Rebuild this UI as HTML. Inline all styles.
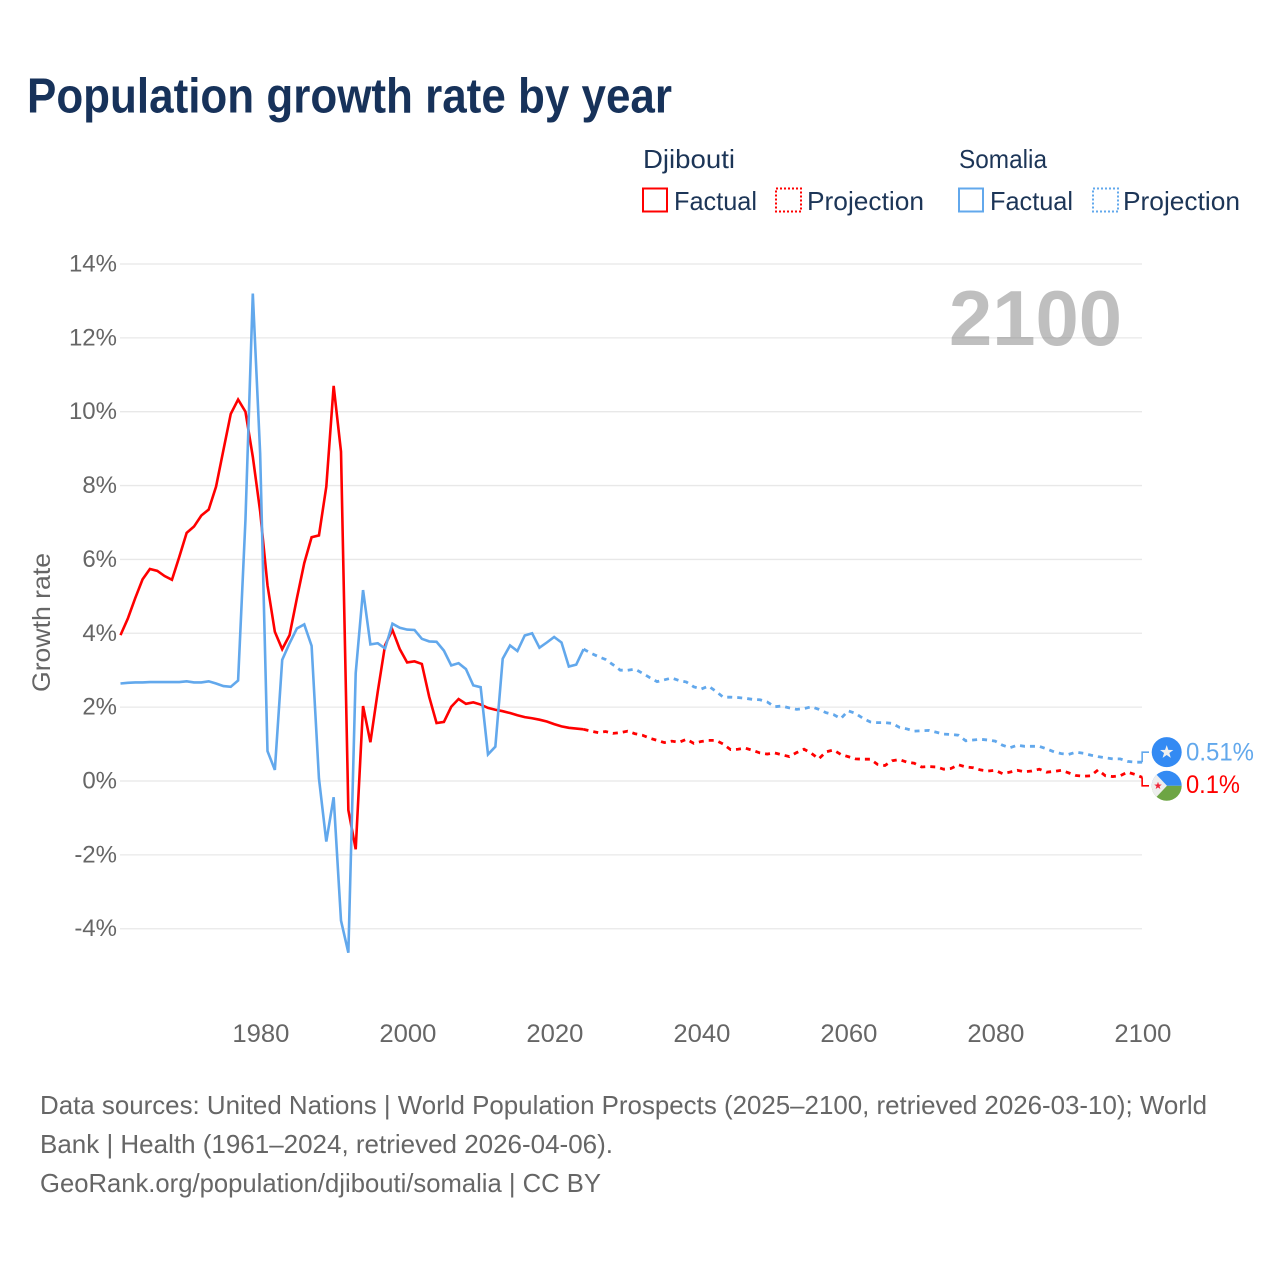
<!DOCTYPE html>
<html lang="en">
<head>
<meta charset="utf-8">
<title>Population growth rate by year</title>
<style>
  html, body { margin: 0; padding: 0; background: #fff; }
  svg { display: block; }
  text { font-family: "Liberation Sans", sans-serif; }
</style>
</head>
<body>
<svg id="chart" width="1280" height="1280" viewBox="0 0 1280 1280" xmlns="http://www.w3.org/2000/svg">
  <rect x="0" y="0" width="1280" height="1280" fill="#ffffff"/>
  <text x="27" y="112.5" font-size="49" font-weight="700" fill="#17325a" textLength="645" lengthAdjust="spacingAndGlyphs">Population growth rate by year</text>

  <g font-size="26" fill="#1c3557">
    <text x="643" y="168" textLength="92" lengthAdjust="spacingAndGlyphs">Djibouti</text>
    <text x="959" y="168" textLength="88" lengthAdjust="spacingAndGlyphs">Somalia</text>
    <rect x="643" y="188.5" width="24" height="23" fill="none" stroke="#ff0000" stroke-width="2"/>
    <text x="674" y="210" textLength="83" lengthAdjust="spacingAndGlyphs">Factual</text>
    <rect x="776" y="188.5" width="25" height="23" fill="none" stroke="#ff0000" stroke-width="2" stroke-dasharray="2 2"/>
    <text x="807" y="210" textLength="117" lengthAdjust="spacingAndGlyphs">Projection</text>
    <rect x="959" y="188.5" width="24" height="23" fill="none" stroke="#62a8ec" stroke-width="2"/>
    <text x="990" y="210" textLength="83" lengthAdjust="spacingAndGlyphs">Factual</text>
    <rect x="1093" y="188.5" width="25" height="23" fill="none" stroke="#62a8ec" stroke-width="2" stroke-dasharray="2 2"/>
    <text x="1123" y="210" textLength="117" lengthAdjust="spacingAndGlyphs">Projection</text>
  </g>

  <g id="grid"></g>
  <g id="yTicks"></g>
  <g id="xTicks"></g>

  <text transform="translate(50 622.5) rotate(-90)" text-anchor="middle" font-size="25" fill="#666666" textLength="139" lengthAdjust="spacingAndGlyphs">Growth rate</text>

  <text x="949" y="345" font-size="78" font-weight="700" fill="#808080" fill-opacity="0.5" textLength="173" lengthAdjust="spacingAndGlyphs">2100</text>

  <g id="series"></g>
  <g id="endMarkers"></g>

  <g font-size="26" fill="#666666">
    <text x="40" y="1114" textLength="1167" lengthAdjust="spacingAndGlyphs">Data sources: United Nations | World Population Prospects (2025–2100, retrieved 2026-03-10); World</text>
    <text x="40" y="1153" textLength="573" lengthAdjust="spacingAndGlyphs">Bank | Health (1961–2024, retrieved 2026-04-06).</text>
    <text x="40" y="1192" textLength="561" lengthAdjust="spacingAndGlyphs">GeoRank.org/population/djibouti/somalia | CC BY</text>
  </g>
</svg>

<script>
const factualStartYear = 1961;
const projectionStartYear = 2024;
const yTickValues = [-4, -2, 0, 2, 4, 6, 8, 10, 12, 14];
const xTickValues = [1980, 2000, 2020, 2040, 2060, 2080, 2100];

const djiboutiFactual = [
  3.95, 4.40, 4.95, 5.46, 5.74, 5.69, 5.55, 5.45, 6.07, 6.72,
  6.89, 7.19, 7.35, 7.97, 8.96, 9.94, 10.33, 10.0, 8.78, 7.3,
  5.3, 4.04, 3.57, 3.95, 4.95, 5.9, 6.6, 6.65, 7.97, 10.7,
  8.92, -0.79, -1.85, 2.03, 1.05, 2.42, 3.68, 4.09, 3.57, 3.21,
  3.24, 3.17, 2.28, 1.57, 1.6, 2.01, 2.22, 2.09, 2.13, 2.07,
  1.98, 1.93, 1.89, 1.84, 1.78, 1.73, 1.70, 1.66, 1.61, 1.54,
  1.48, 1.44, 1.42, 1.40
];
const somaliaFactual = [
  2.64, 2.66, 2.67, 2.67, 2.68, 2.68, 2.68, 2.68, 2.68, 2.70,
  2.67, 2.67, 2.70, 2.64, 2.57, 2.55, 2.72, 7.07, 13.2, 8.87,
  0.81, 0.3, 3.28, 3.73, 4.13, 4.24, 3.66, 0.07, -1.64, -0.44,
  -3.78, -4.65, 2.92, 5.17, 3.70, 3.73, 3.59, 4.26, 4.15, 4.10,
  4.09, 3.85, 3.78, 3.77, 3.53, 3.13, 3.19, 3.03, 2.59, 2.54,
  0.72, 0.93, 3.31, 3.67, 3.52, 3.94, 4.0, 3.61, 3.75, 3.90,
  3.75, 3.10, 3.15, 3.57
];
const djiboutiProjection = [
  1.40, 1.35, 1.31, 1.34, 1.29, 1.31, 1.35, 1.28, 1.24, 1.16,
  1.10, 1.04, 1.08, 1.05, 1.13, 1.02, 1.07, 1.10, 1.10, 1.0,
  0.85, 0.86, 0.89, 0.83, 0.76, 0.73, 0.76, 0.71, 0.66, 0.77,
  0.86, 0.75, 0.60, 0.79, 0.84, 0.72, 0.66, 0.60, 0.59, 0.59,
  0.45, 0.42, 0.55, 0.58, 0.51, 0.48, 0.38, 0.39, 0.38, 0.32,
  0.34, 0.44, 0.38, 0.36, 0.30, 0.27, 0.29, 0.20, 0.24, 0.29,
  0.25, 0.27, 0.32, 0.24, 0.26, 0.29, 0.22, 0.15, 0.13, 0.14,
  0.30, 0.14, 0.12, 0.14, 0.24, 0.18, 0.10
];
const somaliaProjection = [
  3.57, 3.46, 3.37, 3.29, 3.15, 3.0, 3.0, 3.03, 2.92, 2.8,
  2.69, 2.74, 2.79, 2.72, 2.68, 2.55, 2.49, 2.57, 2.43, 2.27,
  2.27, 2.26, 2.24, 2.21, 2.20, 2.14, 2.01, 2.03, 1.98, 1.94,
  1.96, 2.01, 1.94, 1.85, 1.80, 1.69, 1.90, 1.83, 1.70, 1.60,
  1.58, 1.58, 1.56, 1.45, 1.41, 1.35, 1.36, 1.37, 1.32, 1.27,
  1.26, 1.24, 1.09, 1.11, 1.13, 1.11, 1.08, 0.97, 0.90, 0.97,
  0.94, 0.94, 0.94, 0.87, 0.79, 0.74, 0.72, 0.78, 0.75, 0.70,
  0.66, 0.63, 0.60, 0.60, 0.53, 0.51, 0.51
];

const SVG_NS = 'http://www.w3.org/2000/svg';
const RED = '#ff0000';
const BLUE = '#62a8ec';

function xScale(year) { return 120.5 + (year - 1961) * 7.35; }
function yScale(value) { return 781 - value * 36.93; }

function make(tag, attrs, parent) {
  const el = document.createElementNS(SVG_NS, tag);
  Object.keys(attrs).forEach(function (k) { el.setAttribute(k, attrs[k]); });
  parent.appendChild(el);
  return el;
}

function linePath(values, startYear) {
  return values.map(function (v, i) {
    return (i ? 'L' : 'M') + xScale(startYear + i).toFixed(2) + ' ' + yScale(v).toFixed(2);
  }).join(' ');
}

const gridGroup = document.getElementById('grid');
const yTickGroup = document.getElementById('yTicks');
const xTickGroup = document.getElementById('xTicks');
const seriesGroup = document.getElementById('series');
const markerGroup = document.getElementById('endMarkers');

yTickValues.forEach(function (tick) {
  const rule = make('line', { x1: 120, x2: 1142, y1: yScale(tick), y2: yScale(tick), stroke: '#e8e8e8', 'stroke-width': 1.3 }, gridGroup);
  
  
  const label = make('text', { x: 117, y: yScale(tick) + 7.5, 'text-anchor': 'end', 'font-size': 24, fill: '#666666' }, yTickGroup);
  label.textContent = tick + '%';
  
  
});

xTickValues.forEach(function (tick) {
  const label = make('text', { x: xScale(tick) + 0.7, y: 1042, 'text-anchor': 'middle', 'font-size': 25, fill: '#666666', textLength: 57, lengthAdjust: 'spacingAndGlyphs' }, xTickGroup);
  label.textContent = String(tick);
  
  
});

const somaliaProjectionLine = make('path', { d: linePath(somaliaProjection, projectionStartYear), fill: 'none', stroke: BLUE, 'stroke-width': 2.8, 'stroke-dasharray': '5 5' }, seriesGroup);



const djiboutiProjectionLine = make('path', { d: linePath(djiboutiProjection, projectionStartYear), fill: 'none', stroke: RED, 'stroke-width': 2.8, 'stroke-dasharray': '5 5' }, seriesGroup);



const djiboutiFactualLine = make('path', { d: linePath(djiboutiFactual, factualStartYear), fill: 'none', stroke: RED, 'stroke-width': 2.6 }, seriesGroup);



const somaliaFactualLine = make('path', { d: linePath(somaliaFactual, factualStartYear), fill: 'none', stroke: BLUE, 'stroke-width': 2.6 }, seriesGroup);



function starPoints(cx, cy, r) {
  const pts = [];
  for (let i = 0; i < 10; i++) {
    const rad = i % 2 ? r * 0.4 : r;
    const a = -Math.PI / 2 + i * Math.PI / 5;
    pts.push((cx + rad * Math.cos(a)).toFixed(2) + ',' + (cy + rad * Math.sin(a)).toFixed(2));
  }
  return pts.join(' ');
}

const endX = xScale(2100);
const somaliaEndY = yScale(somaliaProjection[somaliaProjection.length - 1]);
const djiboutiEndY = yScale(djiboutiProjection[djiboutiProjection.length - 1]);
const somaliaMarkerY = somaliaEndY - 10;
const djiboutiMarkerY = djiboutiEndY + 8.5;

const somaliaConnector = make('path', { d: 'M' + endX + ' ' + somaliaEndY + ' V' + somaliaMarkerY + ' H1149', fill: 'none', stroke: BLUE, 'stroke-width': 1.6 }, markerGroup);



const djiboutiConnector = make('path', { d: 'M' + endX + ' ' + djiboutiEndY + ' V' + djiboutiMarkerY + ' H1149', fill: 'none', stroke: RED, 'stroke-width': 1.6 }, markerGroup);



const somaliaFlag = make('g', {}, markerGroup);


make('circle', { cx: 1166.7, cy: somaliaMarkerY, r: 15, fill: '#338af3' }, somaliaFlag);
make('polygon', { points: starPoints(1166.7, somaliaMarkerY, 7), fill: '#f0f0f0' }, somaliaFlag);

const clipDefs = make('defs', {}, markerGroup);
const flagClip = make('clipPath', { id: 'djiboutiClip' }, clipDefs);
make('circle', { cx: 1166.7, cy: djiboutiMarkerY, r: 15 }, flagClip);

const djiboutiFlag = make('g', { 'clip-path': 'url(#djiboutiClip)' }, markerGroup);


make('rect', { x: 1151, y: djiboutiMarkerY - 16, width: 32, height: 16, fill: '#338af3' }, djiboutiFlag);
make('rect', { x: 1151, y: djiboutiMarkerY, width: 32, height: 16, fill: '#6da544' }, djiboutiFlag);
make('polygon', { points: '1151,' + (djiboutiMarkerY - 17) + ' 1167,' + djiboutiMarkerY + ' 1151,' + (djiboutiMarkerY + 17), fill: '#eeeeee' }, djiboutiFlag);
make('polygon', { points: starPoints(1158, djiboutiMarkerY, 4), fill: '#f0263a' }, djiboutiFlag);

const somaliaValue = make('text', { x: 1186, y: somaliaMarkerY + 8.5, 'font-size': 25, fill: BLUE, textLength: 68, lengthAdjust: 'spacingAndGlyphs' }, markerGroup);
somaliaValue.textContent = somaliaProjection[somaliaProjection.length - 1] + '%';



const djiboutiValue = make('text', { x: 1186, y: djiboutiMarkerY + 7, 'font-size': 25, fill: RED, textLength: 54, lengthAdjust: 'spacingAndGlyphs' }, markerGroup);
djiboutiValue.textContent = djiboutiProjection[djiboutiProjection.length - 1] + '%';


</script>
</body>
</html>
